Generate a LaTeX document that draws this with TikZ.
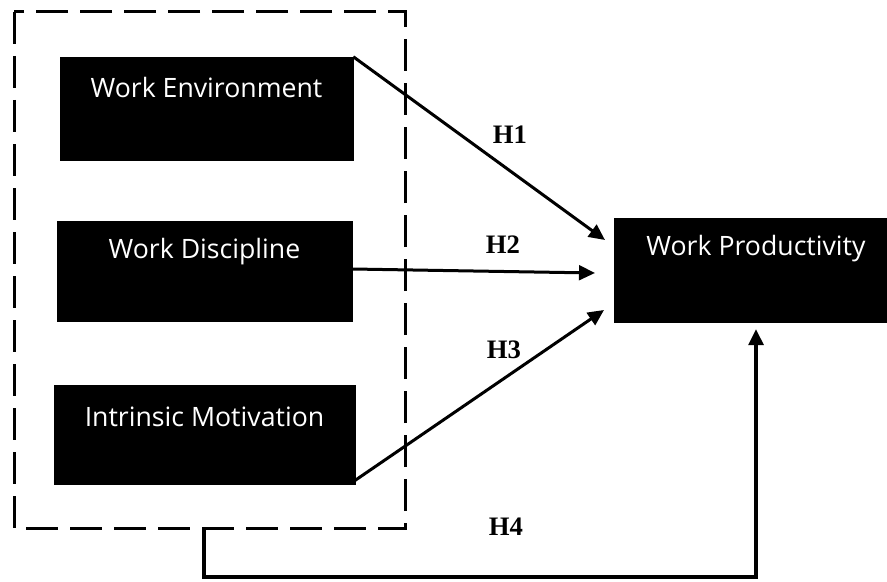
\documentclass[tikz,border=0pt]{standalone}
\usepackage{fontspec}
\setmainfont{Liberation Serif}
\newfontfamily\boxfont{Open Sans}
\usetikzlibrary{arrows.meta,calc}
\begin{document}
\begin{tikzpicture}[x=0.75pt,y=-0.75pt,
  varbox/.style={fill=black, draw=black, inner sep=0pt},
  boxtext/.style={text=white, font=\boxfont\fontsize{20}{24}\selectfont, inner sep=0pt},
  hlabel/.style={font=\bfseries\fontsize{20}{24}\selectfont, inner sep=0pt},
  groupline/.style={line width=2.25pt, dash pattern=on 24pt off 9pt},
  arr/.style={line width=2.25pt, -{Triangle[length=12pt,width=11pt]}},
  linkline/.style={line width=2.6pt, -{Triangle[length=12pt,width=11pt]}}]
\useasboundingbox (0,0) rectangle (887,581);

% independent variables
\node[varbox, minimum width=219.75pt, minimum height=77.25pt] (env) at (206.5,108.5) {};
\node[boxtext] (envt) at ($(env.north)+(0,31)$) {Work Environment};
\node[varbox, minimum width=221.25pt, minimum height=75pt] (disc) at (204.5,271) {};
\node[boxtext] (disct) at ($(disc.north)+(0,31)$) {Work Discipline};
\node[varbox, minimum width=225.75pt, minimum height=74.25pt] (mot) at (204.5,434.5) {};
\node[boxtext] (mott) at ($(mot.north)+(0,32)$) {Intrinsic Motivation};

% dependent variable
\node[varbox, minimum width=204pt, minimum height=78pt] (prod) at (750,270) {};
\node[boxtext] (prodt) at ($(prod.north)+(6,31)$) {Work Productivity};

% group of independent variables
\draw[groupline] (14,12) rectangle (405,528);
\coordinate (grp) at (204,528);

% arrow tips
\coordinate (t1) at (605,240);
\coordinate (t2) at (595,273);
\coordinate (t3) at (604,310);
\coordinate (t4) at (756,329);

\draw[arr] (env.north east) -- (t1);
\draw[arr] ($(disc.east)+(0,-2)$) -- (t2);
\draw[arr] ($(mot.south east)+(0,-4)$) -- (t3);
\draw[linkline] (grp) -- (204,577) -| (t4);

% hypothesis labels
\node[hlabel] (h1) at (510,135) {H1};
\node[hlabel] (h2) at (503,245) {H2};
\node[hlabel] (h3) at (504,350) {H3};
\node[hlabel] (h4) at (506,527) {H4};
\end{tikzpicture}
\end{document}
